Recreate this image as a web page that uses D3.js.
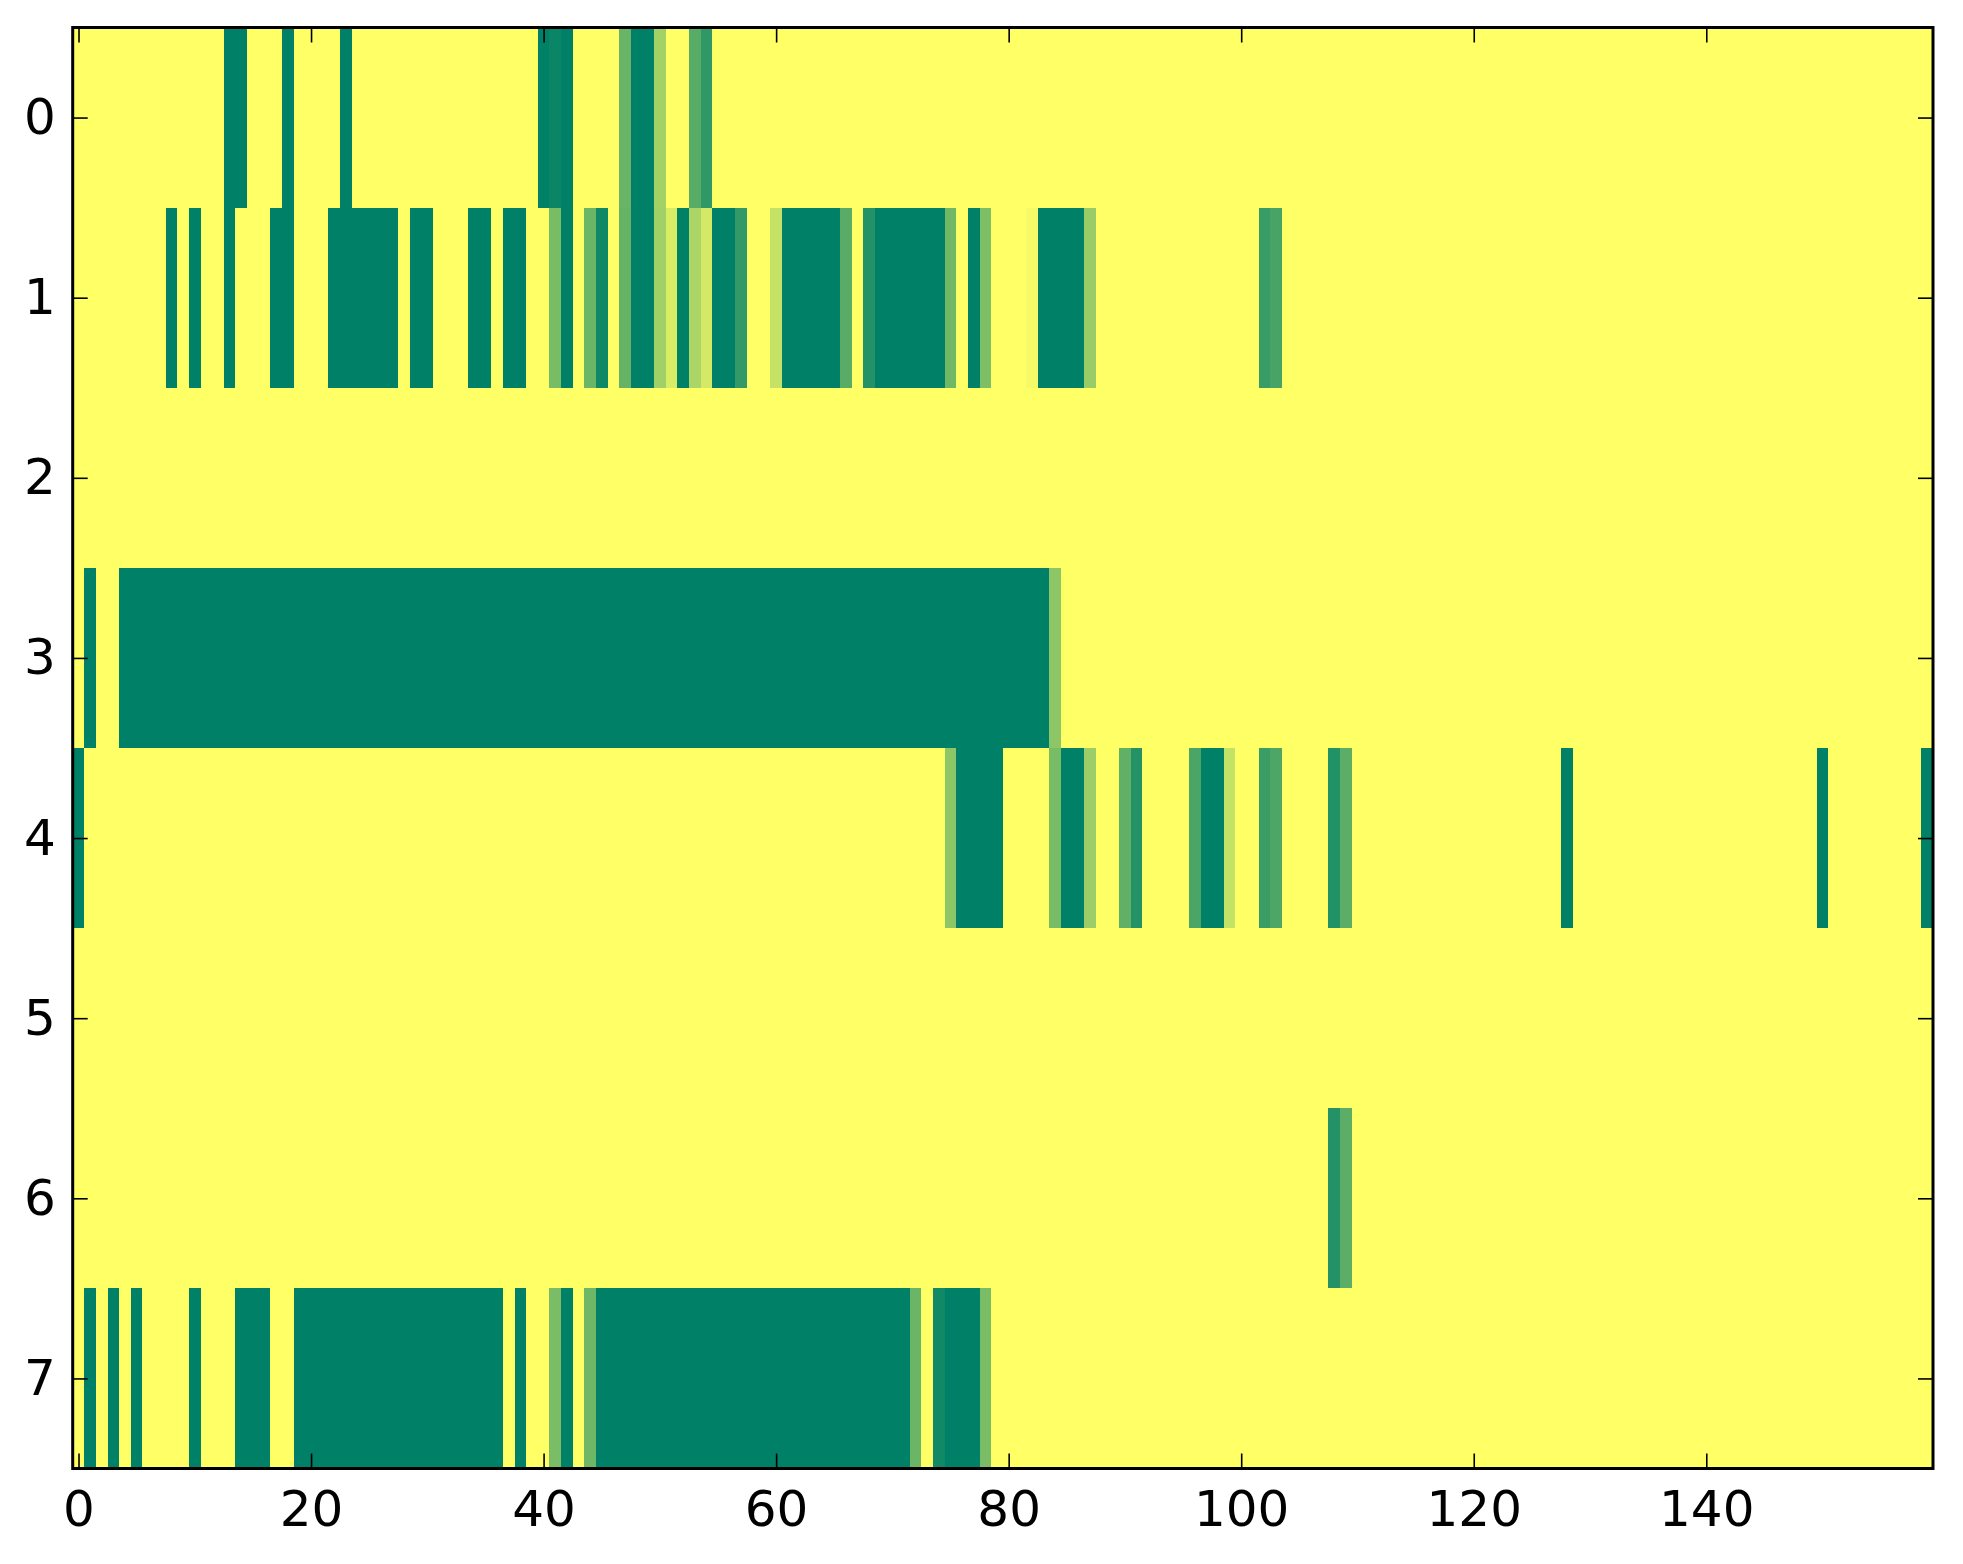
<!DOCTYPE html>
<html>
<head>
<meta charset="utf-8">
<script src="https://cdn.jsdelivr.net/npm/d3@7"></script>
<style>
  body { margin: 0; background: #fff; }
  svg { display: block; }
</style>
</head>
<body>
<svg id="chart" width="1963" height="1564"></svg>
<script>
// size of the matrix (rows x columns)
var nRows = 8;
var nCols = 160;

// runs of non-yellow cells per row: [firstCol, lastCol, value]; every other cell is 1
var row0 = [[13,14,0],[18,18,0],[23,23,0],[40,40,0],[41,41,0.04],[42,42,0],[47,47,0.41],
            [48,49,0],[50,50,0.64],[53,53,0.345],[54,54,0.19]];
var row1 = [[8,8,0],[10,10,0],[13,13,0],[17,18,0],[22,27,0],[29,30,0],[34,35,0],[37,38,0],
            [41,41,0.47],[42,42,0],[44,44,0.42],[45,45,0.06],[47,47,0.4],[48,49,0],[50,50,0.63],
            [51,51,0.85],[52,52,0],[53,53,0.67],[54,54,0.83],[55,56,0],[57,57,0.2],[60,60,0.77],
            [61,65,0],[66,66,0.35],[68,68,0.14],[69,74,0],[75,75,0.44],[77,77,0],[78,78,0.49],
            [82,82,0.96],[83,86,0],[87,87,0.6],[102,102,0.22],[103,103,0.28]];
var row2 = [];
var row3 = [[1,1,0],[4,83,0],[84,84,0.55]];
var row4 = [[0,0,0],[75,75,0.55],[76,79,0],[84,84,0.47],[85,86,0],[87,87,0.61],[90,90,0.38],
            [91,91,0.14],[96,96,0.29],[97,98,0],[99,99,0.77],[102,102,0.23],[103,103,0.3],
            [108,108,0.13],[109,109,0.36],[128,128,0],[150,150,0],[159,159,0]];
var row5 = [];
var row6 = [[108,108,0.14],[109,109,0.36]];
var row7 = [[1,1,0],[3,3,0],[5,5,0],[10,10,0],[14,16,0],[19,36,0],[38,38,0],[41,41,0.48],
            [42,42,0],[44,44,0.43],[45,71,0],[72,72,0.42],[74,74,0.07],[75,77,0],[78,78,0.48]];

var xTicks = [0, 20, 40, 60, 80, 100, 120, 140];
var yTicks = [0, 1, 2, 3, 4, 5, 6, 7];

// plot box (window.top is reserved, so own names here)
var boxLeft = 72.7, boxRight = 1933, boxTop = 27.5, boxBottom = 1468.5;
var fontSize = 50;

// build full grid from the runs
var rows = [row0, row1, row2, row3, row4, row5, row6, row7];
var cells = [];
rows.forEach(function(runs, r){
    var line = new Array(nCols).fill(1);
    runs.forEach(function(run){
        for (var c = run[0]; c <= run[1]; c++) line[c] = run[2];
    });
    line.forEach(function(v, c){
        cells.push({row: r, col: c, value: v});
    });
});

var svg = d3.select("#chart");

// image scales: -0.5 .. n-0.5 like imshow
var x = d3.scaleLinear().domain([-0.5, nCols - 0.5]).range([boxLeft, boxRight]);
var y = d3.scaleLinear().domain([-0.5, nRows - 0.5]).range([boxTop, boxBottom]);

// "summer" colormap is linear between these two
var color = d3.scaleLinear().domain([0, 1]).range(["#008066", "#ffff66"]);

svg.append("g")
    .attr("shape-rendering", "crispEdges")
    .selectAll("rect")
    .data(cells)
    .enter()
    .append("rect")
    .attr("x", function(d){ return x(d.col - 0.5); })
    .attr("y", function(d){ return y(d.row - 0.5); })
    .attr("width", function(d){ return x(d.col + 0.5) - x(d.col - 0.5); })
    .attr("height", function(d){ return y(d.row + 0.5) - y(d.row - 0.5); })
    .attr("fill", function(d){ return color(d.value); });

// inward ticks on all four sides
var tickLen = 15;

function styleAxis(g){
    g.select(".domain").remove();
    g.selectAll(".tick line").attr("stroke", "#000").attr("stroke-width", 1.6);
    g.selectAll(".tick text")
        .attr("fill", "#000")
        .style("font-family", "'DejaVu Sans', sans-serif")
        .style("font-size", fontSize + "px");
}

svg.append("g")
    .attr("transform", "translate(0," + boxBottom + ")")
    .call(d3.axisBottom(x).tickValues(xTicks).tickSize(-tickLen).tickPadding(22))
    .call(styleAxis);

svg.append("g")
    .attr("transform", "translate(0," + boxTop + ")")
    .call(d3.axisTop(x).tickValues(xTicks).tickSize(-tickLen).tickFormat(""))
    .call(styleAxis);

svg.append("g")
    .attr("transform", "translate(" + boxLeft + ",0)")
    .call(d3.axisLeft(y).tickValues(yTicks).tickSize(-tickLen).tickPadding(17))
    .call(styleAxis);

svg.append("g")
    .attr("transform", "translate(" + boxRight + ",0)")
    .call(d3.axisRight(y).tickValues(yTicks).tickSize(-tickLen).tickFormat(""))
    .call(styleAxis);

// frame
svg.append("rect")
    .attr("x", boxLeft)
    .attr("y", boxTop)
    .attr("width", boxRight - boxLeft)
    .attr("height", boxBottom - boxTop)
    .attr("fill", "none")
    .attr("stroke", "#000")
    .attr("stroke-width", 3);
</script>
</body>
</html>
